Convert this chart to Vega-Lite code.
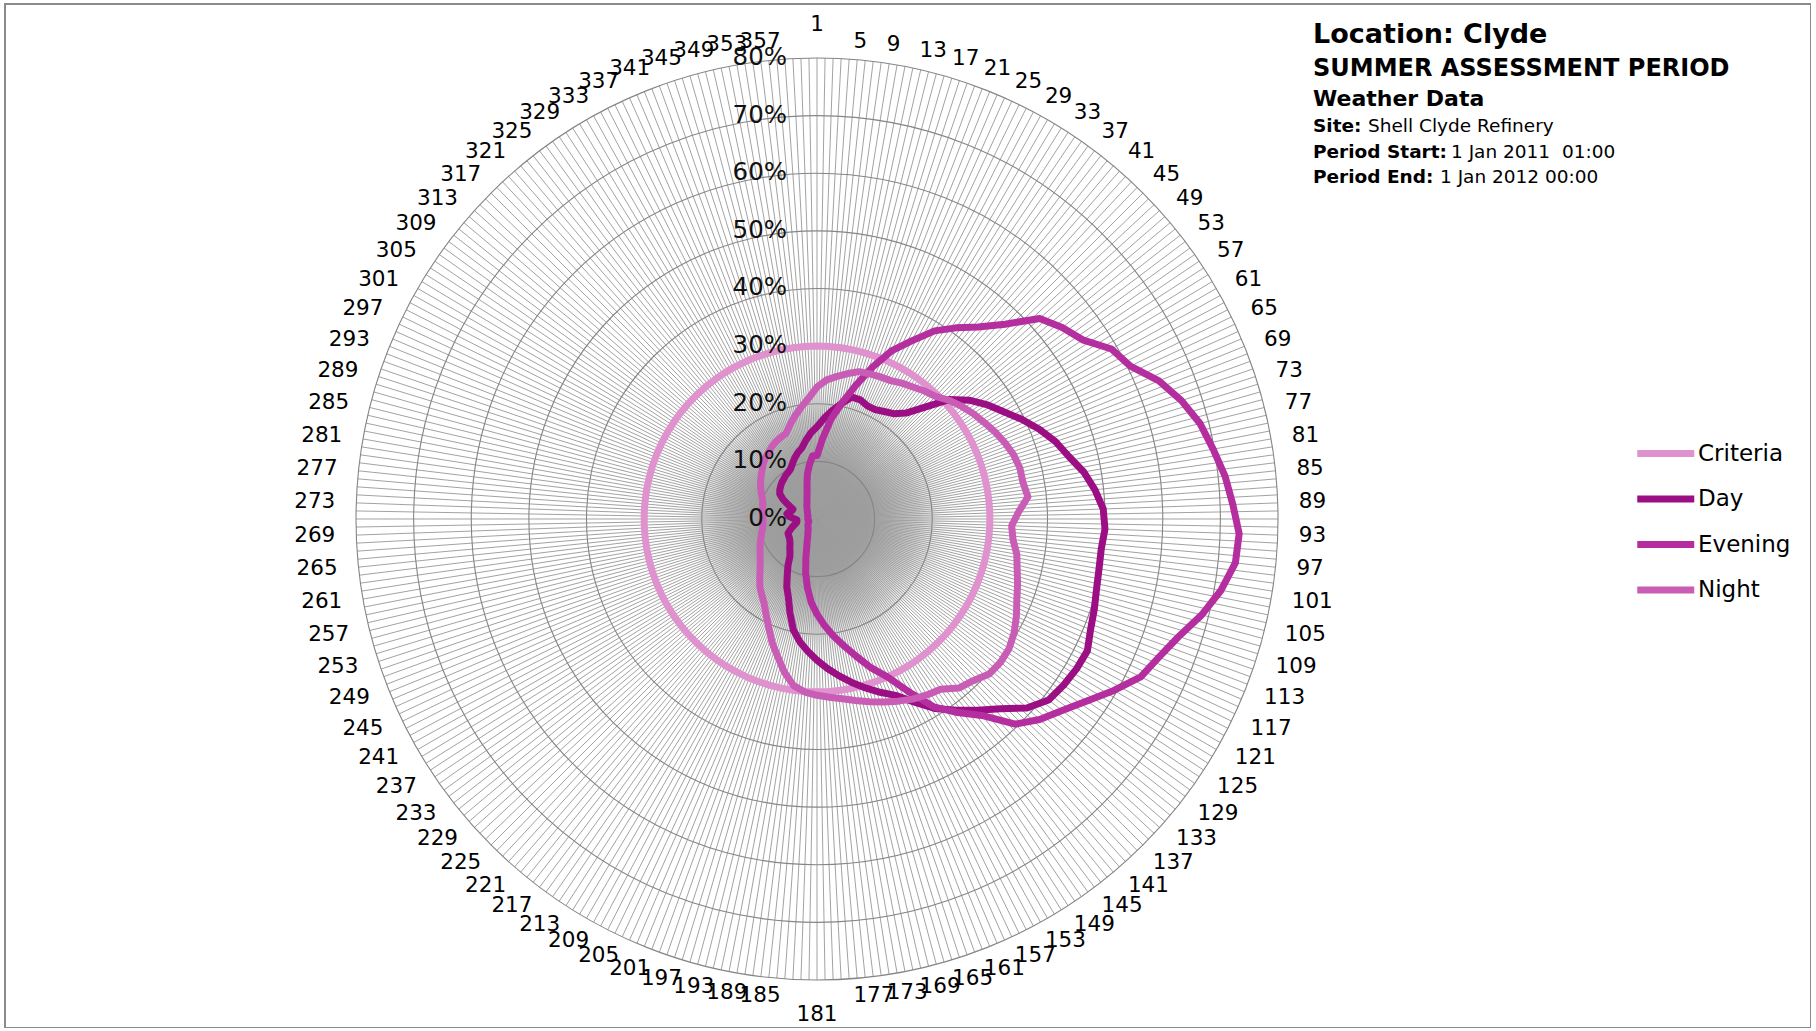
{
  "$schema": "https://vega.github.io/schema/vega-lite/v6.json",
  "width": 1806,
  "height": 1024,
  "autosize": {"type": "none"},
  "padding": {"left": 5, "top": 4, "right": 0, "bottom": 0},
  "background": "white",
  "config": {
    "view": {"stroke": "#8a8a8a", "strokeWidth": 2},
    "font": "DejaVu Sans",
    "text": {"font": "DejaVu Sans"}
  },
  "datasets": {
    "dirs": [{"d":1},{"d":2},{"d":3},{"d":4},{"d":5},{"d":6},{"d":7},{"d":8},{"d":9},{"d":10},{"d":11},{"d":12},{"d":13},{"d":14},{"d":15},{"d":16},{"d":17},{"d":18},{"d":19},{"d":20},{"d":21},{"d":22},{"d":23},{"d":24},{"d":25},{"d":26},{"d":27},{"d":28},{"d":29},{"d":30},{"d":31},{"d":32},{"d":33},{"d":34},{"d":35},{"d":36},{"d":37},{"d":38},{"d":39},{"d":40},{"d":41},{"d":42},{"d":43},{"d":44},{"d":45},{"d":46},{"d":47},{"d":48},{"d":49},{"d":50},{"d":51},{"d":52},{"d":53},{"d":54},{"d":55},{"d":56},{"d":57},{"d":58},{"d":59},{"d":60},{"d":61},{"d":62},{"d":63},{"d":64},{"d":65},{"d":66},{"d":67},{"d":68},{"d":69},{"d":70},{"d":71},{"d":72},{"d":73},{"d":74},{"d":75},{"d":76},{"d":77},{"d":78},{"d":79},{"d":80},{"d":81},{"d":82},{"d":83},{"d":84},{"d":85},{"d":86},{"d":87},{"d":88},{"d":89},{"d":90},{"d":91},{"d":92},{"d":93},{"d":94},{"d":95},{"d":96},{"d":97},{"d":98},{"d":99},{"d":100},{"d":101},{"d":102},{"d":103},{"d":104},{"d":105},{"d":106},{"d":107},{"d":108},{"d":109},{"d":110},{"d":111},{"d":112},{"d":113},{"d":114},{"d":115},{"d":116},{"d":117},{"d":118},{"d":119},{"d":120},{"d":121},{"d":122},{"d":123},{"d":124},{"d":125},{"d":126},{"d":127},{"d":128},{"d":129},{"d":130},{"d":131},{"d":132},{"d":133},{"d":134},{"d":135},{"d":136},{"d":137},{"d":138},{"d":139},{"d":140},{"d":141},{"d":142},{"d":143},{"d":144},{"d":145},{"d":146},{"d":147},{"d":148},{"d":149},{"d":150},{"d":151},{"d":152},{"d":153},{"d":154},{"d":155},{"d":156},{"d":157},{"d":158},{"d":159},{"d":160},{"d":161},{"d":162},{"d":163},{"d":164},{"d":165},{"d":166},{"d":167},{"d":168},{"d":169},{"d":170},{"d":171},{"d":172},{"d":173},{"d":174},{"d":175},{"d":176},{"d":177},{"d":178},{"d":179},{"d":180},{"d":181},{"d":182},{"d":183},{"d":184},{"d":185},{"d":186},{"d":187},{"d":188},{"d":189},{"d":190},{"d":191},{"d":192},{"d":193},{"d":194},{"d":195},{"d":196},{"d":197},{"d":198},{"d":199},{"d":200},{"d":201},{"d":202},{"d":203},{"d":204},{"d":205},{"d":206},{"d":207},{"d":208},{"d":209},{"d":210},{"d":211},{"d":212},{"d":213},{"d":214},{"d":215},{"d":216},{"d":217},{"d":218},{"d":219},{"d":220},{"d":221},{"d":222},{"d":223},{"d":224},{"d":225},{"d":226},{"d":227},{"d":228},{"d":229},{"d":230},{"d":231},{"d":232},{"d":233},{"d":234},{"d":235},{"d":236},{"d":237},{"d":238},{"d":239},{"d":240},{"d":241},{"d":242},{"d":243},{"d":244},{"d":245},{"d":246},{"d":247},{"d":248},{"d":249},{"d":250},{"d":251},{"d":252},{"d":253},{"d":254},{"d":255},{"d":256},{"d":257},{"d":258},{"d":259},{"d":260},{"d":261},{"d":262},{"d":263},{"d":264},{"d":265},{"d":266},{"d":267},{"d":268},{"d":269},{"d":270},{"d":271},{"d":272},{"d":273},{"d":274},{"d":275},{"d":276},{"d":277},{"d":278},{"d":279},{"d":280},{"d":281},{"d":282},{"d":283},{"d":284},{"d":285},{"d":286},{"d":287},{"d":288},{"d":289},{"d":290},{"d":291},{"d":292},{"d":293},{"d":294},{"d":295},{"d":296},{"d":297},{"d":298},{"d":299},{"d":300},{"d":301},{"d":302},{"d":303},{"d":304},{"d":305},{"d":306},{"d":307},{"d":308},{"d":309},{"d":310},{"d":311},{"d":312},{"d":313},{"d":314},{"d":315},{"d":316},{"d":317},{"d":318},{"d":319},{"d":320},{"d":321},{"d":322},{"d":323},{"d":324},{"d":325},{"d":326},{"d":327},{"d":328},{"d":329},{"d":330},{"d":331},{"d":332},{"d":333},{"d":334},{"d":335},{"d":336},{"d":337},{"d":338},{"d":339},{"d":340},{"d":341},{"d":342},{"d":343},{"d":344},{"d":345},{"d":346},{"d":347},{"d":348},{"d":349},{"d":350},{"d":351},{"d":352},{"d":353},{"d":354},{"d":355},{"d":356},{"d":357},{"d":358},{"d":359},{"d":360}],
    "levels": [{"level":0,"label":"0%"},{"level":10,"label":"10%"},{"level":20,"label":"20%"},{"level":30,"label":"30%"},{"level":40,"label":"40%"},{"level":50,"label":"50%"},{"level":60,"label":"60%"},{"level":70,"label":"70%"},{"level":80,"label":"80%"}],
    "rose": [
      {"d":1,"Criteria":30,"Day":16,"Evening":11,"Night":22.9},
      {"d":5,"Criteria":30,"Day":17.5,"Evening":14,"Night":24.2},
      {"d":9,"Criteria":30,"Day":19,"Evening":17.5,"Night":25},
      {"d":13,"Criteria":30,"Day":20.5,"Evening":20.5,"Night":25.8},
      {"d":17,"Criteria":30,"Day":22,"Evening":24,"Night":26.6},
      {"d":21,"Criteria":30,"Day":22,"Evening":28,"Night":26.8},
      {"d":25,"Criteria":30,"Day":21.5,"Evening":32,"Night":27},
      {"d":29,"Criteria":30,"Day":21.5,"Evening":35,"Night":27.2},
      {"d":33,"Criteria":30,"Day":22,"Evening":38.5,"Night":27.8},
      {"d":37,"Criteria":30,"Day":22.6,"Evening":41,"Night":28.3},
      {"d":41,"Criteria":30,"Day":24,"Evening":43.5,"Night":29},
      {"d":45,"Criteria":30,"Day":27,"Evening":47,"Night":29.6},
      {"d":49,"Criteria":30,"Day":31,"Evening":52,"Night":30.8},
      {"d":53,"Criteria":30,"Day":33.5,"Evening":54,"Night":31.8},
      {"d":57,"Criteria":30,"Day":35.5,"Evening":55.6,"Night":32.7},
      {"d":61,"Criteria":30,"Day":37.3,"Evening":59,"Night":33.5},
      {"d":65,"Criteria":30,"Day":39.5,"Evening":60.5,"Night":34.4},
      {"d":69,"Criteria":30,"Day":41.6,"Evening":64,"Night":35.2},
      {"d":73,"Criteria":30,"Day":43.5,"Evening":66.5,"Night":35.9},
      {"d":77,"Criteria":30,"Day":45,"Evening":68.5,"Night":36.3},
      {"d":81,"Criteria":30,"Day":47,"Evening":69.8,"Night":36.3},
      {"d":85,"Criteria":30,"Day":48.5,"Evening":71.2,"Night":36.8},
      {"d":89,"Criteria":30,"Day":49.7,"Evening":72.2,"Night":35},
      {"d":93,"Criteria":30,"Day":50,"Evening":73.3,"Night":33.8},
      {"d":97,"Criteria":30,"Day":49.6,"Evening":73,"Night":34.2},
      {"d":101,"Criteria":30,"Day":49.7,"Evening":71.2,"Night":35.2},
      {"d":105,"Criteria":30,"Day":50,"Evening":68.8,"Night":35.8},
      {"d":109,"Criteria":30,"Day":50.6,"Evening":66,"Night":36.6},
      {"d":113,"Criteria":30,"Day":51.2,"Evening":64,"Night":37.4},
      {"d":117,"Criteria":30,"Day":52.2,"Evening":62.5,"Night":38.5},
      {"d":121,"Criteria":30,"Day":52,"Evening":59.5,"Night":39.5},
      {"d":125,"Criteria":30,"Day":51.6,"Evening":56.5,"Night":40.2},
      {"d":129,"Criteria":30,"Day":51,"Evening":54,"Night":40.4},
      {"d":133,"Criteria":30,"Day":49,"Evening":52,"Night":40.2},
      {"d":137,"Criteria":30,"Day":45.8,"Evening":49.5,"Night":39},
      {"d":141,"Criteria":30,"Day":43.3,"Evening":44.5,"Night":38.3},
      {"d":145,"Criteria":30,"Day":41,"Evening":41.5,"Night":36.5},
      {"d":149,"Criteria":30,"Day":38.8,"Evening":38.5,"Night":36},
      {"d":153,"Criteria":30,"Day":36,"Evening":34,"Night":35.4},
      {"d":157,"Criteria":30,"Day":33.5,"Evening":30,"Night":34.6},
      {"d":161,"Criteria":30,"Day":32,"Evening":27.5,"Night":33.8},
      {"d":165,"Criteria":30,"Day":30.5,"Evening":24.8,"Night":33},
      {"d":169,"Criteria":30,"Day":29,"Evening":22.5,"Night":32.2},
      {"d":173,"Criteria":30,"Day":27.5,"Evening":20.5,"Night":31.5},
      {"d":177,"Criteria":30,"Day":26,"Evening":18.5,"Night":31},
      {"d":181,"Criteria":30,"Day":24.5,"Evening":16.5,"Night":30.6},
      {"d":185,"Criteria":30,"Day":23,"Evening":14.5,"Night":30.1},
      {"d":189,"Criteria":30,"Day":21.5,"Evening":12,"Night":29.2},
      {"d":193,"Criteria":30,"Day":19.7,"Evening":9.5,"Night":27.2},
      {"d":197,"Criteria":30,"Day":17,"Evening":7,"Night":24.8},
      {"d":201,"Criteria":30,"Day":14.5,"Evening":5.2,"Night":22.8},
      {"d":205,"Criteria":30,"Day":12.9,"Evening":4.2,"Night":20.6},
      {"d":209,"Criteria":30,"Day":11,"Evening":3.4,"Night":18.8},
      {"d":213,"Criteria":30,"Day":9.5,"Evening":3,"Night":17.3},
      {"d":217,"Criteria":30,"Day":8,"Evening":2.7,"Night":16.3},
      {"d":221,"Criteria":30,"Day":7.3,"Evening":2.4,"Night":15.4},
      {"d":225,"Criteria":30,"Day":6.8,"Evening":2.2,"Night":14.3},
      {"d":229,"Criteria":30,"Day":6.3,"Evening":2.1,"Night":13.3},
      {"d":233,"Criteria":30,"Day":6,"Evening":2,"Night":12.5},
      {"d":237,"Criteria":30,"Day":5.8,"Evening":1.9,"Night":11.9},
      {"d":241,"Criteria":30,"Day":5.7,"Evening":1.8,"Night":11.4},
      {"d":245,"Criteria":30,"Day":5.6,"Evening":1.7,"Night":11},
      {"d":249,"Criteria":30,"Day":5,"Evening":1.6,"Night":10.6},
      {"d":253,"Criteria":30,"Day":4.5,"Evening":1.5,"Night":10.2},
      {"d":257,"Criteria":30,"Day":4,"Evening":1.5,"Night":9.9},
      {"d":261,"Criteria":30,"Day":3.6,"Evening":1.5,"Night":9.6},
      {"d":265,"Criteria":30,"Day":3.5,"Evening":1.6,"Night":9.4},
      {"d":269,"Criteria":30,"Day":3.5,"Evening":1.6,"Night":9.4},
      {"d":273,"Criteria":30,"Day":4.2,"Evening":1.6,"Night":9.4},
      {"d":277,"Criteria":30,"Day":5,"Evening":1.6,"Night":9.5},
      {"d":281,"Criteria":30,"Day":5.3,"Evening":1.6,"Night":9.6},
      {"d":285,"Criteria":30,"Day":5,"Evening":1.6,"Night":9.7},
      {"d":289,"Criteria":30,"Day":4.6,"Evening":1.7,"Night":9.9},
      {"d":293,"Criteria":30,"Day":4.5,"Evening":1.7,"Night":10.3},
      {"d":297,"Criteria":30,"Day":5.5,"Evening":1.8,"Night":10.8},
      {"d":301,"Criteria":30,"Day":6.8,"Evening":1.9,"Night":11.3},
      {"d":305,"Criteria":30,"Day":7.8,"Evening":2,"Night":11.8},
      {"d":309,"Criteria":30,"Day":8.2,"Evening":2.1,"Night":12.3},
      {"d":313,"Criteria":30,"Day":8.5,"Evening":2.3,"Night":12.8},
      {"d":317,"Criteria":30,"Day":8.8,"Evening":2.5,"Night":13.4},
      {"d":321,"Criteria":30,"Day":9,"Evening":2.7,"Night":13.9},
      {"d":325,"Criteria":30,"Day":9.3,"Evening":3,"Night":14.3},
      {"d":329,"Criteria":30,"Day":9.5,"Evening":3.3,"Night":14.8},
      {"d":333,"Criteria":30,"Day":9.8,"Evening":3.7,"Night":15.2},
      {"d":337,"Criteria":30,"Day":10.5,"Evening":4.3,"Night":15.5},
      {"d":341,"Criteria":30,"Day":11.3,"Evening":5,"Night":15.8},
      {"d":345,"Criteria":30,"Day":12,"Evening":6.3,"Night":17},
      {"d":349,"Criteria":30,"Day":12.6,"Evening":8,"Night":18.3},
      {"d":353,"Criteria":30,"Day":13.8,"Evening":9.5,"Night":19.6},
      {"d":357,"Criteria":30,"Day":15,"Evening":11,"Night":21}
    ]
  },
  "layer": [
    {
      "data": {"values": [{}]},
      "transform": [{"calculate": "0", "as": "cx"}, {"calculate": "0", "as": "cy"}],
      "mark": {
        "type": "point", "shape": "circle", "filled": true, "opacity": 1, "strokeWidth": 0, "size": 82944,
        "fill": {"gradient": "radial", "x1": 0.5, "y1": 0.5, "r1": 0, "x2": 0.5, "y2": 0.5, "r2": 0.5,
          "stops": [
            {"offset": 0, "color": "#959595"},
            {"offset": 0.35, "color": "#a3a3a3"},
            {"offset": 0.7, "color": "rgba(185,185,185,0.55)"},
            {"offset": 1, "color": "rgba(255,255,255,0)"}
          ]}
      },
      "encoding": {
        "x": {"field": "cx", "type": "quantitative", "scale": {"domain": [-140.91, 172.49], "nice": false, "zero": false}, "axis": null},
        "y": {"field": "cy", "type": "quantitative", "scale": {"domain": [-88.33, 89.37], "nice": false, "zero": false}, "axis": null}
      }
    },
    {
      "data": {"name": "dirs"},
      "transform": [
        {"calculate": "(datum.d-1)*PI/180", "as": "a"},
        {"calculate": "0", "as": "cx"},
        {"calculate": "0", "as": "cy"},
        {"calculate": "80*sin(datum.a)", "as": "sx"},
        {"calculate": "80*cos(datum.a)", "as": "sy"}
      ],
      "mark": {"type": "rule", "stroke": "#9d9d9d", "strokeWidth": 0.95},
      "encoding": {
        "x": {"field": "cx", "type": "quantitative", "scale": {"domain": [-140.91, 172.49], "nice": false, "zero": false}, "axis": null},
        "y": {"field": "cy", "type": "quantitative", "scale": {"domain": [-88.33, 89.37], "nice": false, "zero": false}, "axis": null},
        "x2": {"field": "sx"},
        "y2": {"field": "sy"}
      }
    },
    {
      "data": {"name": "levels"},
      "transform": [{"filter": "datum.level > 0"}, {"calculate": "0", "as": "cx"}, {"calculate": "0", "as": "cy"}],
      "mark": {"type": "point", "shape": "circle", "filled": false, "stroke": "#858585", "strokeWidth": 1.1, "opacity": 1},
      "encoding": {
        "x": {"field": "cx", "type": "quantitative", "scale": {"domain": [-140.91, 172.49], "nice": false, "zero": false}, "axis": null},
        "y": {"field": "cy", "type": "quantitative", "scale": {"domain": [-88.33, 89.37], "nice": false, "zero": false}, "axis": null},
        "size": {"field": "level", "type": "quantitative", "scale": {"type": "pow", "exponent": 2, "domain": [0, 80], "range": [0, 850084]}, "legend": null}
      }
    },
    {
      "data": {"name": "rose"},
      "transform": [
        {"fold": ["Criteria", "Day", "Evening", "Night"], "as": ["series", "v"]},
        {"calculate": "(datum.d-1)*PI/180", "as": "a"},
        {"calculate": "datum.v*sin(datum.a)", "as": "px"},
        {"calculate": "datum.v*cos(datum.a)", "as": "py"}
      ],
      "mark": {"type": "line", "interpolate": "linear-closed", "strokeWidth": 7, "strokeJoin": "round"},
      "encoding": {
        "x": {"field": "px", "type": "quantitative", "scale": {"domain": [-140.91, 172.49], "nice": false, "zero": false}, "axis": null},
        "y": {"field": "py", "type": "quantitative", "scale": {"domain": [-88.33, 89.37], "nice": false, "zero": false}, "axis": null},
        "order": {"field": "d", "type": "quantitative"},
        "color": {
          "field": "series", "type": "nominal",
          "scale": {"domain": ["Criteria", "Day", "Evening", "Night"], "range": ["#DF92CE", "#9C0F84", "#B52E9F", "#C95DB5"]},
          "legend": {
            "orient": "none", "legendX": 1657, "legendY": 431.5, "title": null,
            "symbolType": "M-3,0H1", "symbolSize": 812, "symbolStrokeWidth": 7,
            "labelFontSize": 23, "labelFont": "DejaVu Sans", "labelColor": "#000",
            "labelOffset": 0, "rowPadding": 13.5, "padding": 0
          }
        }
      }
    },
    {
      "data": {"name": "levels"},
      "transform": [{"calculate": "0", "as": "cx"}],
      "mark": {"type": "text", "align": "right", "baseline": "middle", "dx": -30, "fontSize": 24.5, "fill": "#111"},
      "encoding": {
        "x": {"field": "cx", "type": "quantitative", "scale": {"domain": [-140.91, 172.49], "nice": false, "zero": false}, "axis": null},
        "y": {"field": "level", "type": "quantitative", "scale": {"domain": [-88.33, 89.37], "nice": false, "zero": false}, "axis": null},
        "text": {"field": "label"}
      }
    },
    {
      "data": {"name": "dirs"},
      "transform": [
        {"filter": "(datum.d-1) % 4 == 0 && datum.d > 1 && datum.d < 181"},
        {"calculate": "(datum.d-1)*PI/180", "as": "a"},
        {"calculate": "82.08*sin(datum.a) + (3 + 6*abs(sin(datum.a)))/5.7625", "as": "lx"},
        {"calculate": "82.08*cos(datum.a) + 5.5*cos(datum.a)/5.7625", "as": "ly"}
      ],
      "mark": {"type": "text", "align": "left", "baseline": "middle", "fontSize": 21.5, "fill": "#000"},
      "encoding": {
        "x": {"field": "lx", "type": "quantitative", "scale": {"domain": [-140.91, 172.49], "nice": false, "zero": false}, "axis": null},
        "y": {"field": "ly", "type": "quantitative", "scale": {"domain": [-88.33, 89.37], "nice": false, "zero": false}, "axis": null},
        "text": {"field": "d"}
      }
    },
    {
      "data": {"name": "dirs"},
      "transform": [
        {"filter": "(datum.d-1) % 4 == 0 && datum.d > 181"},
        {"calculate": "(datum.d-1)*PI/180", "as": "a"},
        {"calculate": "82.08*sin(datum.a) - (3 + 6*abs(sin(datum.a)))/5.7625", "as": "lx"},
        {"calculate": "82.08*cos(datum.a) + 5.5*cos(datum.a)/5.7625", "as": "ly"}
      ],
      "mark": {"type": "text", "align": "right", "baseline": "middle", "fontSize": 21.5, "fill": "#000"},
      "encoding": {
        "x": {"field": "lx", "type": "quantitative", "scale": {"domain": [-140.91, 172.49], "nice": false, "zero": false}, "axis": null},
        "y": {"field": "ly", "type": "quantitative", "scale": {"domain": [-88.33, 89.37], "nice": false, "zero": false}, "axis": null},
        "text": {"field": "d"}
      }
    },
    {
      "data": {"name": "dirs"},
      "transform": [
        {"filter": "datum.d == 1 || datum.d == 181"},
        {"calculate": "0", "as": "lx"},
        {"calculate": "datum.d == 1 ? 82.08 + 21/5.7625 : -(82.08 + 23/5.7625)", "as": "ly"}
      ],
      "mark": {"type": "text", "align": "center", "baseline": "middle", "fontSize": 21.5, "fill": "#000"},
      "encoding": {
        "x": {"field": "lx", "type": "quantitative", "scale": {"domain": [-140.91, 172.49], "nice": false, "zero": false}, "axis": null},
        "y": {"field": "ly", "type": "quantitative", "scale": {"domain": [-88.33, 89.37], "nice": false, "zero": false}, "axis": null},
        "text": {"field": "d"}
      }
    },
    {
      "data": {"values": [{}]},
      "mark": {"type": "text", "text": "Location: Clyde", "align": "left", "baseline": "alphabetic", "fontSize": 27, "fontWeight": "bold", "fill": "#000"},
      "encoding": {
        "x": {"datum": 86.07, "type": "quantitative", "scale": {"domain": [-140.91, 172.49], "nice": false, "zero": false}, "axis": null},
        "y": {"datum": 82.6, "type": "quantitative", "scale": {"domain": [-88.33, 89.37], "nice": false, "zero": false}, "axis": null}
      }
    },
    {
      "data": {"values": [{}]},
      "mark": {"type": "text", "text": "SUMMER ASSESSMENT PERIOD", "align": "left", "baseline": "alphabetic", "fontSize": 24, "fontWeight": "bold", "fill": "#000"},
      "encoding": {
        "x": {"datum": 86.07, "type": "quantitative", "scale": {"domain": [-140.91, 172.49], "nice": false, "zero": false}, "axis": null},
        "y": {"datum": 76.9, "type": "quantitative", "scale": {"domain": [-88.33, 89.37], "nice": false, "zero": false}, "axis": null}
      }
    },
    {
      "data": {"values": [{}]},
      "mark": {"type": "text", "text": "Weather Data", "align": "left", "baseline": "alphabetic", "fontSize": 22, "fontWeight": "bold", "fill": "#000"},
      "encoding": {
        "x": {"datum": 86.07, "type": "quantitative", "scale": {"domain": [-140.91, 172.49], "nice": false, "zero": false}, "axis": null},
        "y": {"datum": 71.67, "type": "quantitative", "scale": {"domain": [-88.33, 89.37], "nice": false, "zero": false}, "axis": null}
      }
    },
    {
      "data": {"values": [{}]},
      "mark": {"type": "text", "text": "Site:", "align": "left", "baseline": "alphabetic", "fontSize": 18.5, "fontWeight": "bold", "fill": "#000"},
      "encoding": {
        "x": {"datum": 86.07, "type": "quantitative", "scale": {"domain": [-140.91, 172.49], "nice": false, "zero": false}, "axis": null},
        "y": {"datum": 67.16, "type": "quantitative", "scale": {"domain": [-88.33, 89.37], "nice": false, "zero": false}, "axis": null}
      }
    },
    {
      "data": {"values": [{}]},
      "mark": {"type": "text", "text": "Shell Clyde Refinery", "align": "left", "baseline": "alphabetic", "dx": 55, "fontSize": 18.5, "fill": "#000"},
      "encoding": {
        "x": {"datum": 86.07, "type": "quantitative", "scale": {"domain": [-140.91, 172.49], "nice": false, "zero": false}, "axis": null},
        "y": {"datum": 67.16, "type": "quantitative", "scale": {"domain": [-88.33, 89.37], "nice": false, "zero": false}, "axis": null}
      }
    },
    {
      "data": {"values": [{}]},
      "mark": {"type": "text", "text": "Period Start:", "align": "left", "baseline": "alphabetic", "fontSize": 18.5, "fontWeight": "bold", "fill": "#000"},
      "encoding": {
        "x": {"datum": 86.07, "type": "quantitative", "scale": {"domain": [-140.91, 172.49], "nice": false, "zero": false}, "axis": null},
        "y": {"datum": 62.65, "type": "quantitative", "scale": {"domain": [-88.33, 89.37], "nice": false, "zero": false}, "axis": null}
      }
    },
    {
      "data": {"values": [{}]},
      "mark": {"type": "text", "text": "1 Jan 2011\u00a0 01:00", "align": "left", "baseline": "alphabetic", "dx": 138, "fontSize": 18.5, "fill": "#000"},
      "encoding": {
        "x": {"datum": 86.07, "type": "quantitative", "scale": {"domain": [-140.91, 172.49], "nice": false, "zero": false}, "axis": null},
        "y": {"datum": 62.65, "type": "quantitative", "scale": {"domain": [-88.33, 89.37], "nice": false, "zero": false}, "axis": null}
      }
    },
    {
      "data": {"values": [{}]},
      "mark": {"type": "text", "text": "Period End:", "align": "left", "baseline": "alphabetic", "fontSize": 18.5, "fontWeight": "bold", "fill": "#000"},
      "encoding": {
        "x": {"datum": 86.07, "type": "quantitative", "scale": {"domain": [-140.91, 172.49], "nice": false, "zero": false}, "axis": null},
        "y": {"datum": 58.31, "type": "quantitative", "scale": {"domain": [-88.33, 89.37], "nice": false, "zero": false}, "axis": null}
      }
    },
    {
      "data": {"values": [{}]},
      "mark": {"type": "text", "text": "1 Jan 2012 00:00", "align": "left", "baseline": "alphabetic", "dx": 127, "fontSize": 18.5, "fill": "#000"},
      "encoding": {
        "x": {"datum": 86.07, "type": "quantitative", "scale": {"domain": [-140.91, 172.49], "nice": false, "zero": false}, "axis": null},
        "y": {"datum": 58.31, "type": "quantitative", "scale": {"domain": [-88.33, 89.37], "nice": false, "zero": false}, "axis": null}
      }
    }
  ]
}
